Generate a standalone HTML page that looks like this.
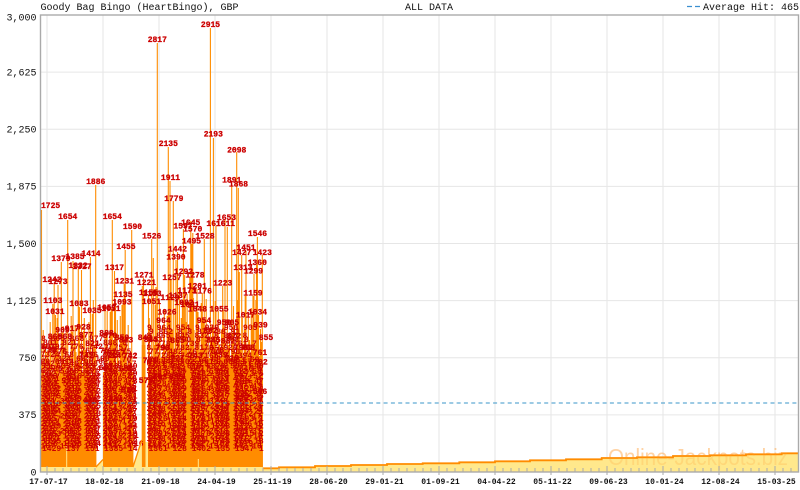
<!DOCTYPE html>
<html><head><meta charset="utf-8">
<style>
html,body{margin:0;padding:0;background:#fff;}
svg{display:block;}
.t{font:10px "Liberation Mono","DejaVu Sans Mono",monospace;fill:#111;}
.y{font:10px "Liberation Mono","DejaVu Sans Mono",monospace;fill:#111;text-anchor:end;}
.x{font:bold 8px "Liberation Mono","DejaVu Sans Mono",monospace;fill:#111;text-anchor:middle;}
.l{font:bold 8px "Liberation Mono","DejaVu Sans Mono",monospace;fill:#c00;text-anchor:middle;stroke:#c00;stroke-width:0.3;}
.f{font:bold 8px "Liberation Mono","DejaVu Sans Mono",monospace;fill:#c00;}
</style></head>
<body>
<svg width="800" height="490" viewBox="0 0 800 490" xmlns="http://www.w3.org/2000/svg">
<rect x="0" y="0" width="800" height="490" fill="#fff"/>
<!-- grid -->
<g stroke="#e6e6e6" stroke-width="1">
<path d="M40.5 72.1H798.5M40.5 129.25H798.5M40.5 186.4H798.5M40.5 243.5H798.5M40.5 300.6H798.5M40.5 357.75H798.5M40.5 414.9H798.5"/>
<path d="M47 15V472M103 15V472M159 15V472M215 15V472M271 15V472M327 15V472M383 15V472M439 15V472M495 15V472M551 15V472M607 15V472M663 15V472M719 15V472M775 15V472"/>
</g>
<!-- watermark -->
<text x="608" y="465" font-family="Liberation Sans, sans-serif" font-size="23" textLength="180" lengthAdjust="spacingAndGlyphs" fill="#ff9a30" fill-opacity="0.28">Online-Jackpots.biz</text>
<!-- solid masses -->
<g fill="#ff8c00">
<rect x="40.5" y="376" width="55.8" height="91"/>
<rect x="103" y="372" width="30.2" height="95"/>
<rect x="141.8" y="345" width="3.7" height="122"/>
<rect x="148" y="358" width="114.8" height="109"/>
</g>
<!-- bars -->
<path stroke="#ff8c00" stroke-width="1.1" fill="none" d="M40.9 467V385M41.5 467V210M42.5 467V362M44 467V372M45.5 467V345M47 467V352M48 467V350M49.5 467V366M51 467V341M52.8 467V304M54.2 467V283M55.5 467V315M56.5 467V340M58 467V285M59.2 467V354M60.5 467V372M61.3 467V262M62.5 467V333M64 467V364M65 467V340M67.7 467V220M69 467V356M70.5 467V368M72 467V332M73 467V261M74.5 467V345M76 467V352M77.3 467V364M78.3 467V269M79.4 467V307M80.5 467V360M81.5 467V270M82.5 467V372M83.6 467V331M85 467V350M86.2 467V338M87.3 467V359M88.4 467V366M89.5 467V380M90.4 467V257M91.5 467V375M92.3 467V314M93.3 467V300M94.5 467V347M95.7 467V185
M43.2 467V330M50.2 467V322M57.2 467V318M63.2 467V326M66.2 467V330M71.2 467V316M75.2 467V325M84.3 467V318M88.9 467V322
M103.5 467V378M105 467V307M106.3 467V337M107.2 467V311M108.2 467V365M109.2 467V357M110.2 467V312M111.2 467V309M112.3 467V220M113.3 467V340M114.5 467V271M115.5 467V303M116.5 467V368M118 467V357M119.5 467V376M121 467V339M122 467V305M123 467V299M124.2 467V284M125.2 467V250M126.3 467V344M127.5 467V371M129 467V362M130.2 467V359M131.7 467V230M132.8 467V380M117.3 467V320M120.3 467V316M128.2 467V325
M142.3 467V286M143.5 467V278M144.8 467V340M148.5 467V296M150 467V364M151.7 467V239M153.3 467V258M154.5 467V345M156 467V287M157.3 467V43M158.7 467V352M160 467V336M161.3 467V362M162.5 467V352M163.6 467V325M165 467V344M166.2 467V370M167.2 467V316M168.3 467V147M170 467V181M171.1 467V280M172.2 467V330M173.3 467V201M174.5 467V350M176 467V260M177.5 467V252M178.7 467V340M180 467V361M181.3 467V318M182.4 467V300M183.4 467V229M184.6 467V275M186 467V322M187.1 467V294M188.5 467V345M189.8 467V277M190.8 467V221M191.8 467V244M192.8 467V233M194 467V330M195.5 467V359M197 467V289M198 467V312M199.2 467V335M200.5 467V350M202.3 467V293M203.3 467V320M204.3 467V239M205.5 467V327M207 467V346M208.3 467V330M209.4 467V360M210.4 467V28M211.5 467V341M212.4 467V325M213.4 467V138M214.5 467V343M216 467V226M217.2 467V354M218.3 467V311M219.5 467V345M220.5 467V359M221.5 467V330M222.7 467V286M224 467V327M225 467V220M226.2 467V350M227.3 467V227M228.3 467V345M229.5 467V333M230.5 467V362M231.7 467V184M232.8 467V334M234 467V339M235.3 467V352M236.7 467V152M238.3 467V188M239.3 467V272M240.5 467V350M241.7 467V255M243 467V360M244.3 467V330M246 467V251M247.2 467V353M248.3 467V317M249.5 467V340M250.7 467V365M252 467V325M253 467V296M254 467V274M255.2 467V345M256.5 467V265M257.4 467V237M258.5 467V315M259.5 467V356M260.5 467V329M261.4 467V342M262.3 467V255
M149.2 467V318M155.2 467V305M159.4 467V300M164.3 467V310M169.2 467V296M175.2 467V308M179.4 467V290M185.3 467V302M193.4 467V298M196.2 467V305M201.3 467V303M206.2 467V299M215.2 467V301M223.3 467V310M233.5 467V306M237.5 467V300M242.3 467V318M245.2 467V296M251.3 467V308M255.9 467V300"/>
<path stroke="#ffe88c" stroke-width="1" d="M66.7 445V467M198.3 459V467"/>
<!-- filler labels -->
<g class="f">
<text x="41" y="341">8 865  868  877</text>
<text x="43" y="345"> 801   821</text>
<text x="40.5" y="349">7 792 776  742 7</text>
<text x="42" y="353">776 7  7 761 75</text>
<text x="40.5" y="357">7324 68 7196 73</text>
<text x="42.5" y="361">7 7324  68 7196</text>
<text x="40.5" y="364">69  6814 705 6</text>
<text x="40.5" y="366">652 7140 598</text>
<text x="42" y="368.5">71 633 6205</text>
<text x="43.5" y="371">5986 612 574</text>
<text x="40.5" y="373.5">627 5480 631</text>
<text x="42" y="376">5827 64 5913</text>
<text x="43.5" y="378.5">493 5816 522</text>
<text x="40.5" y="381">5371 488 560</text>
<text x="42" y="383.5">483 5271 469</text>
<text x="43.5" y="386">462 5135 497</text>
<text x="40.5" y="388.5">4815 437 502</text>
<text x="42" y="391">4392 418 457</text>
<text x="43.5" y="393.5">419 4680 452</text>
<text x="40.5" y="396">3962 412 437</text>
<text x="42" y="398.5">4175 386 419</text>
<text x="43.5" y="401">367 3849 372</text>
<text x="40.5" y="403.5">374 3920 405</text>
<text x="42" y="406">3518 362 397</text>
<text x="43.5" y="408.5">342 3681 355</text>
<text x="40.5" y="411">3285 314 336</text>
<text x="42" y="413.5">3164 329 347</text>
<text x="43.5" y="416">302 3127 318</text>
<text x="40.5" y="418.5">297 2831 276</text>
<text x="42" y="421">2857 276 294</text>
<text x="43.5" y="423.5">263 2748 281</text>
<text x="40.5" y="426">2514 246 233</text>
<text x="42" y="428.5">2419 238 256</text>
<text x="43.5" y="431">225 2316 247</text>
<text x="40.5" y="433.5">219 2087 196</text>
<text x="42" y="436">2083 194 219</text>
<text x="43.5" y="438.5">187 1962 205</text>
<text x="40.5" y="441">1863 178 172</text>
<text x="42" y="443.5">1745 163 182</text>
<text x="43.5" y="446">156 1638 144</text>
<text x="40.5" y="448.5">167 1549 158</text>
<text x="42" y="451">1429 137 151</text>

<text x="103" y="345">888 8</text>
<text x="104" y="350">7  757</text>
<text x="102.5" y="354">757 75</text>
<text x="104" y="358">724 742</text>
<text x="102.5" y="362">6 7  70</text>
<text x="103" y="366">6418 57</text>
<text x="104" y="368.5">573 649</text>
<text x="102.5" y="371">6025 81</text>
<text x="103.2" y="373.5">548 592</text>
<text x="104" y="376">5367 49</text>
<text x="102.5" y="378.5">497 531</text>
<text x="103.2" y="381">4826 50</text>
<text x="104" y="383.5">461 478</text>
<text x="102.5" y="386">4395 42</text>
<text x="103.2" y="388.5">418 436</text>
<text x="104" y="391">3974 41</text>
<text x="102.5" y="393.5">385 402</text>
<text x="103.2" y="396">3652 37</text>
<text x="104" y="398.5">347 361</text>
<text x="102.5" y="401">3318 34</text>
<text x="103.2" y="403.5">309 324</text>
<text x="104" y="406">2876 29</text>
<text x="102.5" y="408.5">271 285</text>
<text x="103.2" y="411">2543 26</text>
<text x="104" y="413.5">238 247</text>
<text x="102.5" y="416">2169 22</text>
<text x="103.2" y="418.5">197 208</text>
<text x="104" y="421">1845 19</text>
<text x="102.5" y="423.5">166 172</text>
<text x="103.2" y="426">1527 15</text>
<text x="104" y="428.5">139 144</text>
<text x="102.5" y="431">2814 27</text>
<text x="103.2" y="433.5">263 219</text>
<text x="104" y="436">1976 18</text>
<text x="102.5" y="438.5">204 231</text>
<text x="103.2" y="441">1658 17</text>
<text x="104" y="443.5">183 162</text>
<text x="102.5" y="446">1492 16</text>
<text x="103.2" y="448.5">154 147</text>
<text x="104" y="451">1385 14</text>
<text x="134" y="438">1</text>
<text x="134" y="446">16</text>

<text x="147" y="330">9 964  954 9 939 950 905</text>
<text x="149" y="334">9  862 8  8 872  88 91</text>
<text x="146.5" y="338">8  865 845 832 8 855 8</text>
<text x="148" y="342">843 8  790 8  798 768 8</text>
<text x="146.5" y="346">7 778  7 739 719 7 761 7</text>
<text x="146.5" y="350">8 793  782 8170  7926 81</text>
<text x="149" y="354">77  7482 76  7731 790 7</text>
<text x="146.5" y="358">7 7284  748 7165 7 7394</text>
<text x="149" y="362">70 6958  7214 68 7053 69</text>
<text x="146.5" y="364">6 6847 702  6915 684 67</text>
<text x="146.5" y="366">6731 648 6925 703 6617 6</text>
<text x="148.5" y="368.5">59 6402 618 6873 597 640</text>
<text x="147.5" y="371">6284 593 6017 625 5846 5</text>
<text x="146.5" y="373.5">571 6138 554 5906 612 58</text>
<text x="148.5" y="376">5619 537 5482 561 5273 5</text>
<text x="147.5" y="378.5">526 5094 541 5318 507 52</text>
<text x="146.5" y="381">4937 512 4865 503 4782 4</text>
<text x="148.5" y="383.5">487 4659 476 4801 463 47</text>
<text x="147.5" y="386">4528 461 4397 452 4615 4</text>
<text x="146.5" y="388.5">436 4482 421 4356 447 43</text>
<text x="148.5" y="391">4173 409 4264 398 4125 4</text>
<text x="147.5" y="393.5">392 4037 381 3965 402 38</text>
<text x="146.5" y="396">3746 368 3819 357 3692 3</text>
<text x="148.5" y="398.5">351 3584 362 3417 349 35</text>
<text x="147.5" y="401">3329 318 3461 327 3253 3</text>
<text x="146.5" y="403.5">306 3172 295 3248 311 29</text>
<text x="148.5" y="406">2874 283 2961 276 2815 2</text>
<text x="147.5" y="408.5">264 2719 258 2643 271 25</text>
<text x="146.5" y="411">2438 236 2517 249 2384 2</text>
<text x="148.5" y="413.5">228 2305 217 2261 234 21</text>
<text x="147.5" y="416">2086 197 2143 205 1972 2</text>
<text x="146.5" y="418.5">183 1954 176 1898 191 17</text>
<text x="148.5" y="421">1726 164 1781 158 1693 1</text>
<text x="147.5" y="423.5">152 1637 149 1582 161 14</text>
<text x="146.5" y="426">1415 138 1473 132 1396 1</text>
<text x="148.5" y="428.5">127 1364 119 1298 172 12</text>
<text x="147.5" y="431">3517 294 3862 271 3049 2</text>
<text x="146.5" y="433.5">286 2943 307 2618 295 31</text>
<text x="148.5" y="436">2391 254 2176 238 2615 2</text>
<text x="147.5" y="438.5">219 2084 186 2253 207 19</text>
<text x="146.5" y="441">1948 176 2031 164 1872 1</text>
<text x="148.5" y="443.5">172 1695 158 1743 166 18</text>
<text x="147.5" y="446">1582 149 1627 153 1519 1</text>
<text x="146.5" y="448.5">144 1476 139 1514 142 16</text>
<text x="148.5" y="451">1361 128 1402 135 1347 1</text>
</g>
<!-- yellow area -->
<polygon fill="#ffe88c" points="40.5,467 96,467 103,459.5 103,467 133,467 141.8,440 141.8,467 145.5,467 145.5,442 148,442 148,467 262.5,467 262.5,468.3 279,468.3 279,467.3 315,467.3 315,466 351,466 351,465 387,465 387,464 422.7,464 422.7,463.3 459.3,463.3 459.3,462.3 495,462.3 495,461.3 530,461.3 530,460.3 566,460.3 566,459.3 601.7,459.3 601.7,458 637,458 637,457.3 673,457.3 673,456 710,456 710,455.3 746,455.3 746,454.3 781.7,454.3 781.7,453.3 798.5,453.3 798.5,472 40.5,472"/>
<polyline fill="none" stroke="#ff8c00" stroke-width="1.8" points="262.5,468.3 279,468.3 279,467.3 315,467.3 315,466 351,466 351,465 387,465 387,464 422.7,464 422.7,463.3 459.3,463.3 459.3,462.3 495,462.3 495,461.3 530,461.3 530,460.3 566,460.3 566,459.3 601.7,459.3 601.7,458 637,458 637,457.3 673,457.3 673,456 710,456 710,455.3 746,455.3 746,454.3 781.7,454.3 781.7,453.3 798.5,453.3"/>
<path fill="none" stroke="#ff8c00" stroke-width="1.3" d="M96 467L103 459.5M133 467L141.8 440"/>
<!-- watermark over yellow -->
<text x="608" y="465" font-family="Liberation Sans, sans-serif" font-size="23" textLength="180" lengthAdjust="spacingAndGlyphs" fill="#ff9a30" fill-opacity="0.22">Online-Jackpots.biz</text>
<!-- labels -->
<g class="l">
<text x="41" y="208" style="text-anchor:start">1725</text>
<text x="52.8" y="303">1103</text>
<text x="52" y="282">1242</text>
<text x="58" y="284">1273</text>
<text x="55" y="314">1031</text>
<text x="61" y="261">1379</text>
<text x="67.7" y="219">1654</text>
<text x="75" y="259">1385</text>
<text x="78" y="268">1332</text>
<text x="82" y="269">1327</text>
<text x="79" y="306">1083</text>
<text x="91" y="256">1414</text>
<text x="95.7" y="184">1886</text>
<text x="92" y="313">1035</text>
<text x="62.5" y="332.5">909</text>
<text x="72" y="331">917</text>
<text x="83.5" y="329.6">928</text>
<text x="55" y="339">865</text>
<text x="65" y="339">868</text>
<text x="86" y="337.4">877</text>
<text x="92.5" y="346">821</text>
<text x="48" y="349">801</text>
<text x="50" y="352">792</text>
<text x="60" y="354">776</text>
<text x="86.5" y="358">742</text>
<text x="106.8" y="310">1057</text>
<text x="111" y="311">1051</text>
<text x="112.3" y="219">1654</text>
<text x="114.5" y="270">1317</text>
<text x="123" y="297">1135</text>
<text x="122" y="304.5">1093</text>
<text x="124.5" y="283.5">1231</text>
<text x="126" y="249">1455</text>
<text x="132.5" y="229">1590</text>
<text x="106.5" y="335.7">888</text>
<text x="110" y="338">870</text>
<text x="122" y="340">850</text>
<text x="126" y="342.6">843</text>
<text x="109" y="355.7">757</text>
<text x="118" y="355.7">757</text>
<text x="114" y="358">724</text>
<text x="130" y="358.5">742</text>
<text x="106" y="370">663</text>
<text x="126" y="371">655</text>
<text x="144" y="277.4">1271</text>
<text x="146.5" y="285">1221</text>
<text x="151.7" y="238.5">1526</text>
<text x="148.5" y="295">1155</text>
<text x="152" y="296">1153</text>
<text x="151.5" y="304">1051</text>
<text x="145" y="340">843</text>
<text x="151" y="342">845</text>
<text x="150" y="363">708</text>
<text x="146" y="382.8">579</text>
<text x="157.3" y="42">2817</text>
<text x="163.5" y="323">964</text>
<text x="167" y="314.7">1026</text>
<text x="168.3" y="146">2135</text>
<text x="170.5" y="180">1911</text>
<text x="172" y="280">1257</text>
<text x="173.8" y="201">1779</text>
<text x="177.5" y="251.3">1442</text>
<text x="176" y="259.3">1390</text>
<text x="162.5" y="350.7">790</text>
<text x="177.5" y="360.3">727</text>
<text x="177.5" y="343">865</text>
<text x="187" y="293">1171</text>
<text x="183.5" y="274">1292</text>
<text x="183" y="228.7">1597</text>
<text x="190.7" y="225">1645</text>
<text x="192.7" y="231.7">1570</text>
<text x="191.5" y="243.3">1495</text>
<text x="195" y="277.3">1278</text>
<text x="197.3" y="288.3">1201</text>
<text x="202.3" y="293.3">1176</text>
<text x="197.5" y="311.4">1048</text>
<text x="204" y="323">954</text>
<text x="195.5" y="357.8">743</text>
<text x="210.5" y="333">862</text>
<text x="213.3" y="342.3">845</text>
<text x="205" y="238.3">1528</text>
<text x="210.5" y="27">2915</text>
<text x="213.3" y="136.7">2193</text>
<text x="219" y="311.3">1055</text>
<text x="217" y="352.7">778</text>
<text x="220.5" y="357.3">739</text>
<text x="216" y="226">1616</text>
<text x="222.7" y="285.7">1223</text>
<text x="224" y="325">950</text>
<text x="232" y="325">905</text>
<text x="226.5" y="220">1653</text>
<text x="225.5" y="226">1611</text>
<text x="228" y="343.3">832</text>
<text x="232" y="360.7">719</text>
<text x="234" y="338.3">872</text>
<text x="231.7" y="182.7">1891</text>
<text x="236.7" y="152.7">2098</text>
<text x="238.5" y="186.7">1868</text>
<text x="243" y="270">1313</text>
<text x="241.7" y="255">1427</text>
<text x="241" y="350">798</text>
<text x="248" y="350">768</text>
<text x="245.5" y="317.7">1017</text>
<text x="246" y="250">1451</text>
<text x="242.5" y="400">472</text>
<text x="257.5" y="314.3">1034</text>
<text x="253" y="295.7">1159</text>
<text x="253.5" y="273.3">1299</text>
<text x="257.5" y="236">1546</text>
<text x="257.3" y="265">1360</text>
<text x="260.5" y="327.3">939</text>
<text x="266" y="340">855</text>
<text x="260" y="355">761</text>
<text x="260.5" y="364.3">702</text>
<text x="262.3" y="255">1423</text>
<text x="260" y="394">506</text>
<text x="160" y="379.3">603</text>
<text x="176" y="379.3">635</text>
<text x="90" y="402.7">449</text>
<text x="116" y="402">444</text>
<text x="128.5" y="392.7">520</text>
<text x="170" y="300">1120</text>
<text x="178" y="298">1137</text>
<text x="184" y="305">1082</text>
<text x="190" y="307">1031</text>
</g>
<!-- average line -->
<path d="M40.5 403H798.5" stroke="#3a96c8" stroke-width="1" stroke-dasharray="4,3.3"/>
<!-- ticks -->
<path stroke="#aaa" stroke-width="1" d="M47 468V472M55 468V472M63 468V472M71 468V472M79 468V472M87 468V472M95 468V472M103 468V472M111 468V472M119 468V472M127 468V472M135 468V472M143 468V472M151 468V472M159 468V472M167 468V472M175 468V472M183 468V472M191 468V472M199 468V472M207 468V472M215 468V472M223 468V472M231 468V472M239 468V472M247 468V472M255 468V472M263 468V472M271 468V472M279 468V472M287 468V472M295 468V472M303 468V472M311 468V472M319 468V472M327 468V472M335 468V472M343 468V472M351 468V472M359 468V472M367 468V472M375 468V472M383 468V472M391 468V472M399 468V472M407 468V472M415 468V472M423 468V472M431 468V472M439 468V472M447 468V472M455 468V472M463 468V472M471 468V472M479 468V472M487 468V472M495 468V472M503 468V472M511 468V472M519 468V472M527 468V472M535 468V472M543 468V472M551 468V472M559 468V472M567 468V472M575 468V472M583 468V472M591 468V472M599 468V472M607 468V472M615 468V472M623 468V472M631 468V472M639 468V472M647 468V472M655 468V472M663 468V472M671 468V472M679 468V472M687 468V472M695 468V472M703 468V472M711 468V472M719 468V472M727 468V472M735 468V472M743 468V472M751 468V472M759 468V472M767 468V472M775 468V472M783 468V472M791 468V472"/>
<path stroke="#aaa" stroke-width="1" d="M47 466V475M103 466V475M159 466V475M215 466V475M271 466V475M327 466V475M383 466V475M439 466V475M495 466V475M551 466V475M607 466V475M663 466V475M719 466V475M775 466V475"/>
<!-- frame -->
<rect x="40.5" y="15" width="758" height="457" fill="none" stroke="#aaa" stroke-width="1.4"/>
<!-- titles -->
<text class="t" x="40.5" y="10">Goody Bag Bingo (HeartBingo), GBP</text>
<text class="t" x="405" y="10">ALL DATA</text>
<path d="M687 6.5H692M695 6.5H700" stroke="#3b8fd0" stroke-width="1.2"/>
<text class="t" x="703" y="10">Average Hit: 465</text>
<!-- y labels -->
<text class="y" x="36.5" y="20.7">3,000</text>
<text class="y" x="36.5" y="75.4">2,625</text>
<text class="y" x="36.5" y="132.5">2,250</text>
<text class="y" x="36.5" y="189.7">1,875</text>
<text class="y" x="36.5" y="246.8">1,500</text>
<text class="y" x="36.5" y="303.9">1,125</text>
<text class="y" x="36.5" y="361">750</text>
<text class="y" x="36.5" y="418.2">375</text>
<text class="y" x="36.5" y="475.3">0</text>
<!-- x labels -->
<text class="x" x="48.5" y="484">17-07-17</text>
<text class="x" x="104.5" y="484">18-02-18</text>
<text class="x" x="160.5" y="484">21-09-18</text>
<text class="x" x="216.5" y="484">24-04-19</text>
<text class="x" x="272.5" y="484">25-11-19</text>
<text class="x" x="328.5" y="484">28-06-20</text>
<text class="x" x="384.5" y="484">29-01-21</text>
<text class="x" x="440.5" y="484">01-09-21</text>
<text class="x" x="496.5" y="484">04-04-22</text>
<text class="x" x="552.5" y="484">05-11-22</text>
<text class="x" x="608.5" y="484">09-06-23</text>
<text class="x" x="664.5" y="484">10-01-24</text>
<text class="x" x="720.5" y="484">12-08-24</text>
<text class="x" x="776.5" y="484">15-03-25</text>
</svg>
</body></html>
